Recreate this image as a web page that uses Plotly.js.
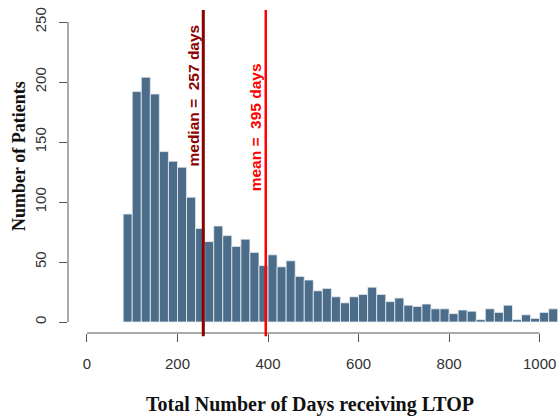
<!DOCTYPE html>
<html>
<head>
<meta charset="utf-8">
<script src="https://cdn.plot.ly/plotly-3.0.1.min.js"></script>
<style>html,body{margin:0;padding:0;background:#fff;}#chart{width:560px;height:419px;}</style>
</head>
<body>
<div id="chart"></div>
<script>
// Histogram bins (lower edge, days) and counts
const binStarts = [80,100,120,140,160,180,200,220,240,260,280,300,320,340,360,380,400,420,440,460,480,500,520,540,560,580,600,620,640,660,680,700,720,740,760,780,800,820,840,860,880,900,920,940,960,980,1000,1020];
const counts    = [90,192,204,190,142,134,129,104,78,67,80,72,63,69,58,47,56,46,51,38,35,26,28,21,16,21,23,29,23,17,20,14,13,15,11,11,7,10,9,2,11,8,14,2,6,3,8,11];
const binWidth = 20;
const medianDays = 257;
const meanDays = 395;
const xTicks = [0,200,400,600,800,1000];
const yTicks = [0,50,100,150,200,250];
const medianLabel = "median =&nbsp; 257 days";
const meanLabel = "mean =&nbsp; 395 days";
const xTitle = "Total Number of Days receiving LTOP";
const yTitle = "Number of Patients";

const trace = {
  type: 'bar',
  x: binStarts,
  y: counts,
  width: binStarts.map(() => binWidth),
  offset: 0,
  marker: {color: '#4b6d8a', line: {color: '#e8eef3', width: 0.8}},
  hoverinfo: 'x+y'
};

const tickFont = {family: 'Liberation Sans, Arial', size: 15, color: '#333'};

const layout = {
  width: 560, height: 419,
  margin: {l: 68, r: 0, t: 10, b: 86},
  paper_bgcolor: '#fff', plot_bgcolor: '#fff',
  showlegend: false,
  bargap: 0,
  xaxis: {
    range: [-41.9, 1045],
    tickvals: xTicks, ticktext: xTicks.map(String),
    ticks: 'outside', ticklen: 8, tickcolor: '#555', tickwidth: 1,
    ticklabelstandoff: 9,
    showgrid: false, zeroline: false, showline: false,
    tickfont: tickFont
  },
  yaxis: {
    range: [-9.17, 260],
    tickvals: yTicks, ticktext: yTicks.map(String),
    ticks: 'outside', ticklen: 8, tickcolor: '#555', tickwidth: 1,
    tickangle: -90,
    ticklabelstandoff: 7,
    showgrid: false, zeroline: false, showline: false,
    tickfont: tickFont
  },
  shapes: [
    {type: 'line', xref: 'x', yref: 'paper', x0: xTicks[0], x1: xTicks[xTicks.length-1], y0: 0, y1: 0, line: {color: '#555', width: 1}},
    {type: 'line', xref: 'paper', yref: 'y', x0: 0, x1: 0, y0: yTicks[0], y1: yTicks[yTicks.length-1], line: {color: '#555', width: 1}},
    {type: 'line', xref: 'x', yref: 'paper', x0: medianDays, x1: medianDays, y0: -0.01, y1: 1, line: {color: '#8b0000', width: 3}},
    {type: 'line', xref: 'x', yref: 'paper', x0: meanDays, x1: meanDays, y0: -0.01, y1: 1, line: {color: '#ff0000', width: 2.5}}
  ],
  annotations: [
    {xref: 'x', yref: 'y', x: medianDays, y: 189, xshift: -10, text: '<b>' + medianLabel + '</b>', textangle: -90, showarrow: false,
     font: {family: 'Liberation Sans, Arial', size: 15.5, color: '#8b0000'}},
    {xref: 'x', yref: 'y', x: meanDays, y: 162, xshift: -10, text: '<b>' + meanLabel + '</b>', textangle: -90, showarrow: false,
     font: {family: 'Liberation Sans, Arial', size: 15.5, color: '#ff0000'}},
    {xref: 'paper', yref: 'paper', x: (310 - 68) / 492, y: (333 - 405) / 323, xanchor: 'center', yanchor: 'middle',
     text: '<b>' + xTitle + '</b>', showarrow: false,
     font: {family: 'Liberation Serif, Times New Roman', size: 20, color: '#111'}},
    {xref: 'paper', yref: 'paper', x: (19 - 68) / 492, y: (333 - 156) / 323, xanchor: 'center', yanchor: 'middle',
     text: '<b>' + yTitle + '</b>', textangle: -90, showarrow: false,
     font: {family: 'Liberation Serif, Times New Roman', size: 18, color: '#111'}}
  ]
};

Plotly.newPlot('chart', [trace], layout, {displayModeBar: false, staticPlot: true});
</script>
</body>
</html>
